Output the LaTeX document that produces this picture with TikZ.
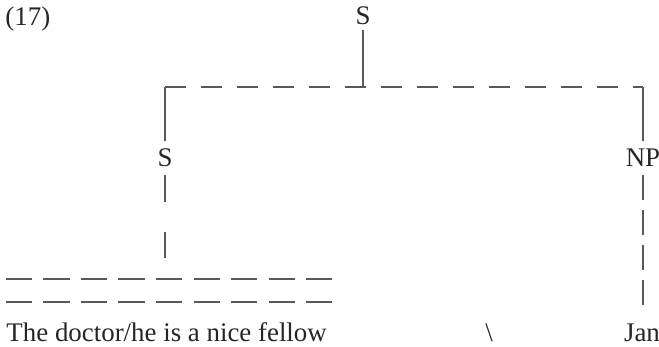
\documentclass[tikz,border=0pt]{standalone}
\usepackage{fontspec}
\setmainfont{Liberation Serif}
\usetikzlibrary{positioning}

\begin{document}
\begin{tikzpicture}[
  label/.style={inner sep=4.5pt, text=black!85},
  tree/.style={draw=black!65, line width=0.6pt},
  longdash/.style={tree, dash pattern=on 0.42cm off 0.3cm},
  stemdash/.style={tree, dash pattern=on 0.53cm off 0.6cm},
  leafdash/.style={tree, dash pattern=on 0.5cm off 0.2cm},
  tridash/.style={tree, dash pattern=on 0.52cm off 0.23cm},
  font=\fontsize{15.3pt}{18pt}\selectfont
]
\useasboundingbox (0,0) rectangle (13.18,6.94);

% ==================
% Example number and root
% ==================
\node[label, inner sep=1.5pt, anchor=west] (num) at (0.05,6.56) {(17)};
\node[label, inner sep=2.5pt] (s0) at (7.26,6.62) {S};

\coordinate (top) at (7.26,5.2);
\coordinate (cl) at (3.3,5.2);
\coordinate (cr) at (12.86,5.2);

\draw[tree] (s0) -- (top);
\draw[longdash] (cl) -- (cr);

% ==================
% Daughters
% ==================
\node[label] (s1) at (3.3,3.78) {S};
\node[label] (np) at (12.86,3.78) {NP};

\draw[tree] (cl) -- (s1);
\draw[tree] (cr) -- (np);

% ==================
% Terminal strings
% ==================
\node[label, inner sep=1.5pt, anchor=base west] (txt) at (0.07,0.1) {The doctor/he is a nice fellow};
\node[label, anchor=base] (bs) at (9.78,0.1) {\textbackslash};
\node[label, anchor=base] (jan) at (12.84,0.1) {Jan};

\coordinate (s1end) at (3.3,1.74);
\coordinate (npend) at (12.86,0.78);
\draw[stemdash] (s1) -- (s1end);
\draw[leafdash] (np) -- (npend);

% triangle lines
\coordinate (t1l) at (0.12,1.36);
\coordinate (t1r) at (6.64,1.36);
\coordinate (t2l) at (0.12,0.9);
\coordinate (t2r) at (6.64,0.9);
\draw[tridash] (t1l) -- (t1r);
\draw[tridash] (t2l) -- (t2r);
\end{tikzpicture}
\end{document}
